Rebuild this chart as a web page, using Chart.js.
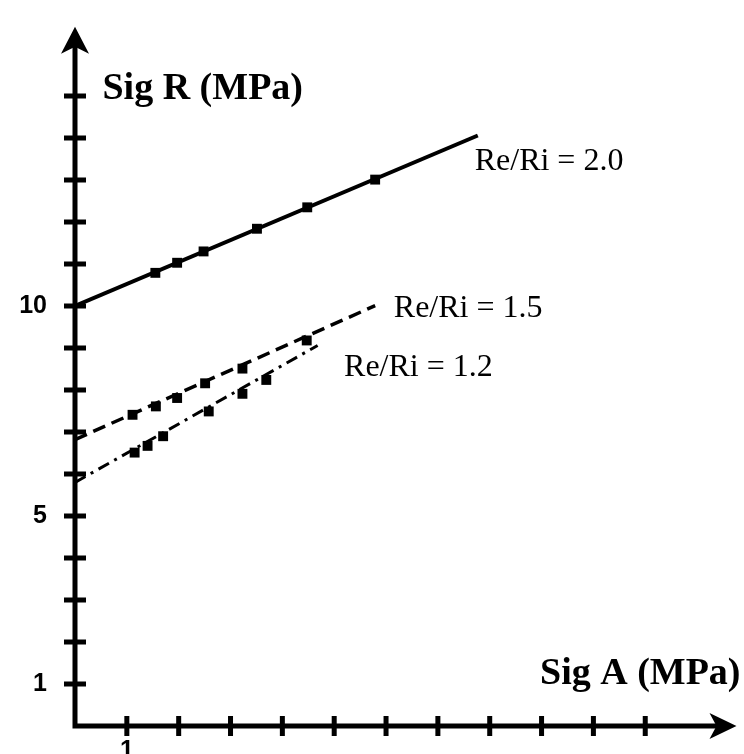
<!DOCTYPE html>
<html>
<head>
<meta charset="utf-8">
<script src="https://cdn.jsdelivr.net/npm/chart.js@4.4.1/dist/chart.umd.min.js"></script>
<style>
  html, body { margin: 0; padding: 0; background: #fff; }
  #wrap { width: 744px; height: 754px; }
</style>
</head>
<body>
<div id="wrap"><canvas id="sig-chart"></canvas></div>
<script>
// Fitted lines (start / end of each line)
var fitX20 = [0, 7.77];
var fitY20 = [10, 14.06];
var fitX15 = [0, 5.79];
var fitY15 = [6.82, 10.01];
var fitX12 = [0, 4.68];
var fitY12 = [5.8, 9.06];

// Measured points
var ptsX20 = [1.55, 1.97, 2.48, 3.51, 4.48, 5.79];
var ptsY20 = [10.79, 11.03, 11.30, 11.84, 12.35, 13.01];
var ptsX15 = [1.11, 1.56, 1.97, 2.51, 3.23, 4.47];
var ptsY15 = [7.41, 7.61, 7.81, 8.16, 8.51, 9.18];
var ptsX12 = [1.15, 1.40, 1.70, 2.58, 3.23, 3.69];
var ptsY12 = [6.51, 6.67, 6.90, 7.49, 7.91, 8.24];

// Tick labels shown on the axes
var yTickLabels = [1, 5, 10];
var xTickLabels = [1];
var yTickMarks = [1, 15];   // first / last tick mark
var xTickMarks = [1, 12];

function toPoints(xs, ys) {
    return xs.map(function (x, i) { return { x: x, y: ys[i] }; });
}

function lineSet(label, xs, ys, width, dash) {
    return {
        label: label,
        data: toPoints(xs, ys),
        showLine: true,
        borderColor: '#000',
        borderWidth: width,
        borderDash: dash,
        pointRadius: 0,
        fill: false
    };
}

function pointSet(label, xs, ys) {
    return {
        label: label,
        data: toPoints(xs, ys),
        showLine: false,
        pointStyle: 'rect',
        pointRadius: 7,
        pointBackgroundColor: '#000',
        pointBorderColor: '#000',
        pointBorderWidth: 0
    };
}

// no extra label padding around the plot
function fixBox(size) {
    return function (s) {
        if (s.isHorizontal()) { s.height = size; } else { s.width = size; }
        s.paddingTop = 0;
        s.paddingBottom = 0;
        s.paddingLeft = 0;
        s.paddingRight = 0;
    };
}

// Axis lines, arrows, tick marks and text
var axesPlugin = {
    id: 'axesPlugin',
    afterDraw: function (chart) {
        var c = chart.ctx;
        var xs = chart.scales.x, ys = chart.scales.y;
        var x0 = xs.getPixelForValue(0);
        var y0 = ys.getPixelForValue(0);
        var yTop = ys.getPixelForValue(16.65);
        var xEnd = xs.getPixelForValue(12.76);
        c.save();
        c.strokeStyle = '#000';
        c.fillStyle = '#000';
        c.lineWidth = 5;
        c.lineCap = 'butt';

        c.beginPath();
        c.moveTo(x0, y0 + 2.5);
        c.lineTo(x0, yTop + 15);
        c.moveTo(x0 - 2.5, y0);
        c.lineTo(xEnd - 15, y0);
        c.stroke();

        // arrow heads
        c.beginPath();
        c.moveTo(x0, yTop);
        c.lineTo(x0 - 14, yTop + 27);
        c.lineTo(x0, yTop + 20);
        c.lineTo(x0 + 14, yTop + 27);
        c.closePath();
        c.fill();
        c.beginPath();
        c.moveTo(xEnd, y0);
        c.lineTo(xEnd - 27, y0 - 13);
        c.lineTo(xEnd - 20, y0);
        c.lineTo(xEnd - 27, y0 + 13);
        c.closePath();
        c.fill();

        // tick marks
        c.lineWidth = 5;
        c.beginPath();
        ys.ticks.forEach(function (t) {
            if (t.value >= yTickMarks[0] && t.value <= yTickMarks[1] && Number.isInteger(t.value)) {
                var p = ys.getPixelForValue(t.value);
                c.moveTo(x0 - 11, p);
                c.lineTo(x0 + 11, p);
            }
        });
        xs.ticks.forEach(function (t) {
            if (t.value >= xTickMarks[0] && t.value <= xTickMarks[1] && Number.isInteger(t.value)) {
                var p = xs.getPixelForValue(t.value);
                c.moveTo(p, y0 - 10);
                c.lineTo(p, y0 + 10);
            }
        });
        c.stroke();

        // axis titles
        c.textBaseline = 'alphabetic';
        c.textAlign = 'left';
        c.font = 'bold 38px "Liberation Serif", "Times New Roman", serif';
        c.fillText('Sig R (MPa)', xs.getPixelForValue(0.53), ys.getPixelForValue(14.92));
        c.fillText('Sig A (MPa)', xs.getPixelForValue(8.97), ys.getPixelForValue(1.01));

        // series labels
        c.font = '32px "Liberation Serif", "Times New Roman", serif';
        c.fillText('Re/Ri = 2.0', xs.getPixelForValue(7.71), ys.getPixelForValue(13.23));
        c.fillText('Re/Ri = 1.5', xs.getPixelForValue(6.15), ys.getPixelForValue(9.74));
        c.fillText('Re/Ri = 1.2', xs.getPixelForValue(5.19), ys.getPixelForValue(8.33));
        c.restore();
    }
};

var ctx = document.getElementById('sig-chart');

var chartData = {
    datasets: [
        lineSet('Re/Ri = 2.0', fitX20, fitY20, 4, []),
        pointSet('Re/Ri = 2.0 pts', ptsX20, ptsY20),
        lineSet('Re/Ri = 1.5', fitX15, fitY15, 3.5, [13, 7]),
        pointSet('Re/Ri = 1.5 pts', ptsX15, ptsY15),
        lineSet('Re/Ri = 1.2', fitX12, fitY12, 3, [12, 6, 3, 6]),
        pointSet('Re/Ri = 1.2 pts', ptsX12, ptsY12)
    ]
};

var chartOptions = {
    responsive: true,
    maintainAspectRatio: false,
    animation: false,
    layout: { padding: 0 },
    plugins: {
        legend: { display: false },
        tooltip: { enabled: false }
    },
    scales: {
        x: {
            type: 'linear',
            min: 0,
            max: 12.77,
            grid: { display: false, drawTicks: false },
            border: { display: false },
            afterFit: fixBox(28),
            ticks: {
                stepSize: 1,
                autoSkip: false,
                maxRotation: 0,
                padding: 10,
                color: '#000',
                font: { family: '"Liberation Sans", Arial, sans-serif', weight: 'bold', size: 25 },
                callback: function (v) { return xTickLabels.indexOf(v) >= 0 ? String(v) : ''; }
            }
        },
        y: {
            type: 'linear',
            min: 0,
            max: 17.12,
            grid: { display: false, drawTicks: false },
            border: { display: false },
            afterFit: fixBox(75),
            ticks: {
                stepSize: 1,
                autoSkip: false,
                padding: 28,
                color: '#000',
                font: { family: '"Liberation Sans", Arial, sans-serif', weight: 'bold', size: 25 },
                callback: function (v) { return yTickLabels.indexOf(v) >= 0 ? String(v) : ''; }
            }
        }
    }
};

var config = {
    type: 'scatter',
    data: chartData,
    options: chartOptions,
    plugins: [axesPlugin]
};

var sigChart = new Chart(ctx, config);
</script>
</body>
</html>
